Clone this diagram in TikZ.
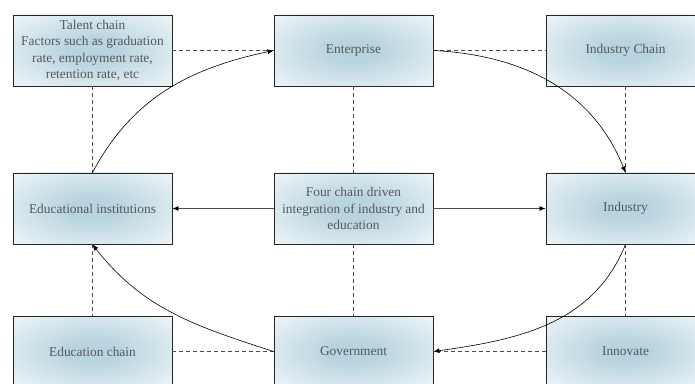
\documentclass[tikz,border=0pt]{standalone}
\usepackage{fontspec}
\setmainfont{Liberation Serif}
\newfontfamily\boxfont{Liberation Serif}
\usetikzlibrary{arrows.meta}
\definecolor{boxblue}{RGB}{184,212,224}
\definecolor{boxedge}{RGB}{240,246,249}
\definecolor{txtgray}{RGB}{88,88,88}
\pgfdeclareradialshading{boxshade}{\pgfpoint{0bp}{0bp}}{color(0bp)=(boxblue); color(8bp)=(boxblue); color(24bp)=(boxblue!55!white); color(36bp)=(boxedge); color(50bp)=(white)}
\begin{document}
\begin{tikzpicture}[x=1pt,y=1pt,
  box/.style={draw=black!85, line width=0.9pt, shading=boxshade, minimum width=159pt, minimum height=71pt, inner sep=0pt, align=center, text=txtgray, font=\boxfont\fontsize{13.4}{16.5}\selectfont},
  link/.style={draw=black!70, dash pattern=on 4pt off 3pt, line width=0.8pt},
  push/.style={draw=black!70, line width=0.8pt, -{Latex[length=6pt,width=5pt,color=black]}},
  flow/.style={draw=black, line width=0.6pt, -{Latex[length=6pt,width=5pt]}}]
\useasboundingbox (0,0) rectangle (695,383);
\clip (0,0) rectangle (695,383);
% the nine boxes
\node [box] (talent) at (92.5,332.5) {Talent chain\\Factors such as graduation\\rate, employment rate,\\retention rate, etc};
\node [box] (firm) at (353.5,332.5) {Enterprise};
\node [box] (indchain) at (625.5,332.5) {Industry Chain};
\node [box] (school) at (92.5,174.5) {Educational institutions};
\node [box] (core) at (353.5,174.5) {Four chain driven\\integration of industry and\\education};
\node [box] (industry) at (625.5,174.5) {Industry};
\node [box] (educhain) at (92.5,31.5) {Education chain};
\node [box] (gov) at (353.5,31.5) {Government};
\node [box] (innov) at (625.5,31.5) {Innovate};
% dashed ties
\draw [link] (talent) -- (firm);
\draw [link] (firm) -- (indchain);
\draw [link] (talent) -- (school);
\draw [link] (firm) -- (core);
\draw [link] (indchain) -- (industry);
\draw [link] (school) -- (educhain);
\draw [link] (core) -- (gov);
\draw [link] (industry) -- (innov);
\draw [link] (educhain) -- (gov);
\draw [link] (innov) -- (gov);
% centre arrows
\draw [push] (core) -- (school);
\draw [push] (core) -- (industry);
% the loop
\draw [flow] (school.north) to[out=62,in=192] (firm.west);
\draw [flow] (firm.east) to[out=-3,in=112] (industry.north);
\draw [flow] (industry.south) to[out=-112,in=8] (gov.east);
\draw [flow] (gov.west) to[out=162,in=-52] (school.south);
\end{tikzpicture}
\end{document}
